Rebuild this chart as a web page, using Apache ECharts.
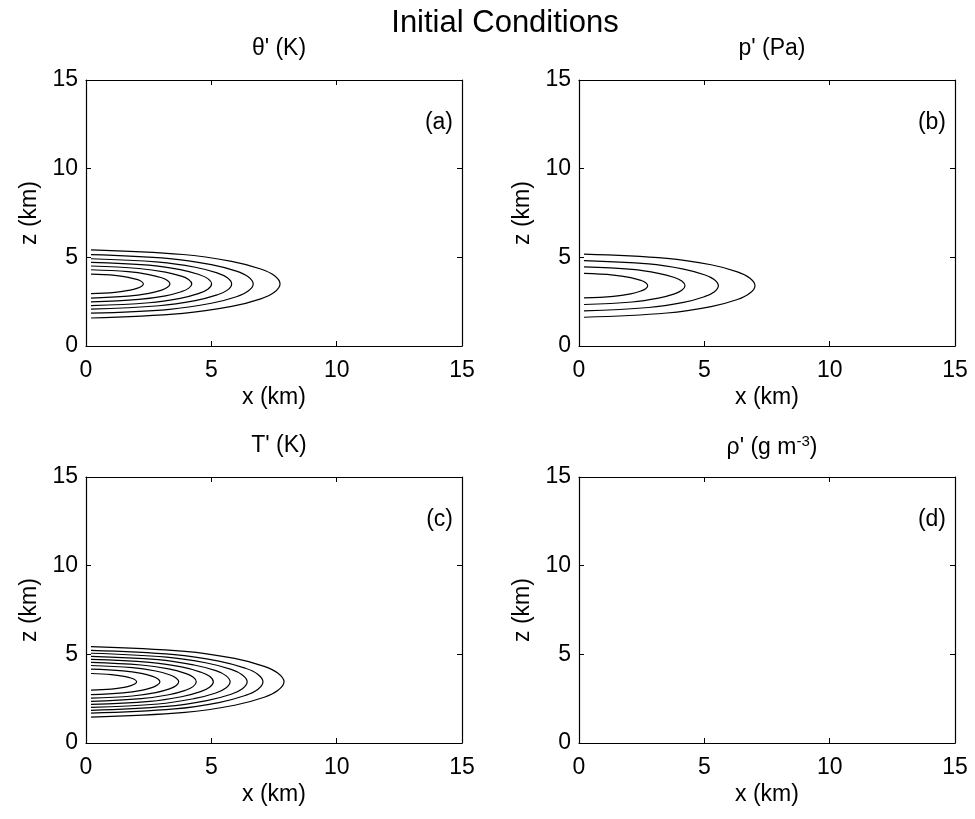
<!DOCTYPE html>
<html>
<head>
<meta charset="utf-8">
<script src="https://cdn.jsdelivr.net/npm/echarts@6/dist/echarts.min.js"></script>
<style>
  html, body { margin: 0; background: #fff; }
  #chart { width: 975px; height: 819px; }
</style>
</head>
<body>
<div id="chart"></div>
<script>
// axis ticks shared by every panel (km)
const axisTicks = [0, 5, 10, 15];

const figureTitle = 'Initial Conditions';
const panelTitles = ["θ' (K)", "p' (Pa)", "T' (K)", "{b|ρ' (g m}{sup|-3}{b|)}"];
const panelLabels = ['(a)', '(b)', '(c)', '(d)'];

// contour paths, [x km, z km], out along the top and back along the bottom
const thetaContours = [
  [[0.2, 4.05], [1.15, 3.98], [1.72, 3.86], [2.06, 3.74], [2.22, 3.63], [2.29, 3.5], [2.22, 3.37], [2.06, 3.26], [1.72, 3.14], [1.15, 3.02], [0.2, 2.95]],
  [[0.2, 4.30], [1.68, 4.19], [2.51, 4.03], [3.02, 3.85], [3.25, 3.69], [3.35, 3.5], [3.25, 3.31], [3.02, 3.15], [2.51, 2.97], [1.68, 2.81], [0.2, 2.70]],
  [[0.2, 4.51], [2.11, 4.37], [3.17, 4.17], [3.80, 3.94], [4.09, 3.75], [4.22, 3.5], [4.09, 3.25], [3.80, 3.06], [3.17, 2.83], [2.11, 2.63], [0.2, 2.49]],
  [[0.2, 4.72], [2.51, 4.56], [3.76, 4.31], [4.51, 4.03], [4.86, 3.80], [5.01, 3.5], [4.86, 3.20], [4.51, 2.97], [3.76, 2.69], [2.51, 2.44], [0.2, 2.28]],
  [[0.2, 4.92], [2.91, 4.73], [4.36, 4.44], [5.23, 4.12], [5.64, 3.85], [5.81, 3.5], [5.64, 3.15], [5.23, 2.88], [4.36, 2.56], [2.91, 2.27], [0.2, 2.08]],
  [[0.2, 5.15], [3.34, 4.93], [5.00, 4.59], [6.00, 4.22], [6.47, 3.90], [6.67, 3.5], [6.47, 3.10], [6.00, 2.78], [5.00, 2.41], [3.34, 2.07], [0.2, 1.85]],
  [[0.2, 5.42], [3.87, 5.16], [5.81, 4.77], [6.97, 4.34], [7.51, 3.97], [7.74, 3.5], [7.51, 3.03], [6.97, 2.66], [5.81, 2.23], [3.87, 1.84], [0.2, 1.58]]
];

const pressureContours = [
  [[0.2, 4.09], [1.37, 4.00], [2.06, 3.86], [2.47, 3.70], [2.66, 3.57], [2.74, 3.4], [2.66, 3.23], [2.47, 3.10], [2.06, 2.94], [1.37, 2.80], [0.2, 2.71]],
  [[0.2, 4.46], [2.12, 4.32], [3.17, 4.10], [3.81, 3.86], [4.10, 3.66], [4.23, 3.4], [4.10, 3.14], [3.81, 2.94], [3.17, 2.70], [2.12, 2.48], [0.2, 2.34]],
  [[0.2, 4.82], [2.78, 4.63], [4.17, 4.34], [5.00, 4.02], [5.39, 3.75], [5.56, 3.4], [5.39, 3.05], [5.00, 2.78], [4.17, 2.46], [2.78, 2.17], [0.2, 1.98]],
  [[0.2, 5.18], [3.51, 4.94], [5.27, 4.58], [6.32, 4.18], [6.81, 3.83], [7.02, 3.4], [6.81, 2.97], [6.32, 2.62], [5.27, 2.22], [3.51, 1.86], [0.2, 1.62]]
];

const tempContours = [
  [[0.2, 3.92], [1.01, 3.86], [1.52, 3.76], [1.82, 3.65], [1.96, 3.56], [2.02, 3.45], [1.96, 3.34], [1.82, 3.25], [1.52, 3.14], [1.01, 3.04], [0.2, 2.98]],
  [[0.2, 4.17], [1.48, 4.07], [2.21, 3.93], [2.66, 3.76], [2.86, 3.62], [2.95, 3.45], [2.86, 3.28], [2.66, 3.14], [2.21, 2.97], [1.48, 2.83], [0.2, 2.73]],
  [[0.2, 4.37], [1.85, 4.25], [2.78, 4.06], [3.33, 3.85], [3.59, 3.67], [3.70, 3.45], [3.59, 3.23], [3.33, 3.05], [2.78, 2.84], [1.85, 2.65], [0.2, 2.53]],
  [[0.2, 4.55], [2.20, 4.40], [3.30, 4.18], [3.96, 3.93], [4.27, 3.72], [4.40, 3.45], [4.27, 3.18], [3.96, 2.97], [3.30, 2.72], [2.20, 2.50], [0.2, 2.35]],
  [[0.2, 4.72], [2.54, 4.55], [3.81, 4.29], [4.57, 4.00], [4.93, 3.76], [5.08, 3.45], [4.93, 3.14], [4.57, 2.90], [3.81, 2.61], [2.54, 2.35], [0.2, 2.18]],
  [[0.2, 4.89], [2.88, 4.70], [4.31, 4.40], [5.18, 4.08], [5.58, 3.80], [5.75, 3.45], [5.58, 3.10], [5.18, 2.82], [4.31, 2.50], [2.88, 2.20], [0.2, 2.01]],
  [[0.2, 5.06], [3.22, 4.84], [4.82, 4.51], [5.79, 4.15], [6.24, 3.84], [6.43, 3.45], [6.24, 3.06], [5.79, 2.75], [4.82, 2.39], [3.22, 2.06], [0.2, 1.84]],
  [[0.2, 5.22], [3.53, 4.98], [5.30, 4.62], [6.35, 4.22], [6.85, 3.88], [7.06, 3.45], [6.85, 3.02], [6.35, 2.68], [5.30, 2.28], [3.53, 1.92], [0.2, 1.68]],
  [[0.2, 5.44], [3.95, 5.17], [5.93, 4.77], [7.11, 4.32], [7.66, 3.93], [7.90, 3.45], [7.66, 2.97], [7.11, 2.58], [5.93, 2.13], [3.95, 1.73], [0.2, 1.46]]
];

// panel (d) has no contours
const densityContours = [];

const panelContours = [thetaContours, pressureContours, tempContours, densityContours];

const FONT = '"Liberation Sans", Arial, Helvetica, sans-serif';
const INK = '#000';

// pixel boxes of the four panels [left, top]
const boxes = [[86, 80], [579, 80], [86, 477], [579, 477]];
const BOX_W = 376;
const BOX_H = 266;

const chart = echarts.init(document.getElementById('chart'), null, { renderer: 'canvas' });

const grid = [];
const xAxis = [];
const yAxis = [];
const series = [];
const title = [{
  text: figureTitle,
  left: 500,
  top: 3,
  textAlign: 'center',
  textStyle: { fontFamily: FONT, fontSize: 31, fontWeight: 'normal', color: INK }
}];

const axisBase = {
  type: 'value',
  min: axisTicks[0],
  max: axisTicks[axisTicks.length - 1],
  interval: axisTicks[1] - axisTicks[0],
  splitLine: { show: false },
  axisLine: { show: true, onZero: false, lineStyle: { color: INK, width: 1.2 } },
  axisTick: { show: true, inside: true, length: 5, lineStyle: { color: INK, width: 1 } }
};
const labelStyle = { color: INK, fontFamily: FONT, fontSize: 23 };
const nameStyle = { color: INK, fontFamily: FONT, fontSize: 23 };

boxes.forEach(([left, top], i) => {
  grid.push({ left, top, width: BOX_W, height: BOX_H, containLabel: false });

  xAxis.push(Object.assign({}, axisBase, {
    gridIndex: i, position: 'bottom',
    name: 'x (km)', nameLocation: 'middle', nameGap: 40, nameTextStyle: nameStyle,
    axisLabel: Object.assign({ margin: 13 }, labelStyle)
  }));
  yAxis.push(Object.assign({}, axisBase, {
    gridIndex: i, position: 'left',
    name: 'z (km)', nameLocation: 'middle', nameGap: 45, nameRotate: 90, nameTextStyle: nameStyle,
    axisLabel: Object.assign({ margin: 8 }, labelStyle)
  }));

  title.push({
    text: panelTitles[i],
    left: left + BOX_W / 2,
    top: top - 48,
    textAlign: 'center',
    textStyle: {
      fontFamily: FONT, fontSize: 23, fontWeight: 'normal', color: INK,
      rich: {
        b: { fontFamily: FONT, fontSize: 23, color: INK, lineHeight: 27 },
        sup: { fontFamily: FONT, fontSize: 15, color: INK, verticalAlign: 'top', lineHeight: 27, padding: [0, 0, 12, 0] }
      }
    }
  });
  title.push({
    text: panelLabels[i],
    left: left + BOX_W - 14,
    top: top + 26,
    textAlign: 'right',
    textStyle: { fontFamily: FONT, fontSize: 23, fontWeight: 'normal', color: INK }
  });

  panelContours[i].forEach((path) => {
    series.push({
      type: 'line',
      xAxisIndex: i,
      yAxisIndex: i,
      data: path,
      smooth: 0.4,
      showSymbol: false,
      symbol: 'none',
      silent: true,
      animation: false,
      lineStyle: { color: INK, width: 1.2 }
    });
  });
});

// mirrored box sides: top and right axes with inward ticks, no labels
boxes.forEach((b, i) => {
  xAxis.push(Object.assign({}, axisBase, { gridIndex: i, position: 'top', axisLabel: { show: false } }));
  yAxis.push(Object.assign({}, axisBase, { gridIndex: i, position: 'right', axisLabel: { show: false } }));
});

chart.setOption({
  backgroundColor: '#fff',
  animation: false,
  title,
  grid,
  xAxis,
  yAxis,
  series
});
</script>
</body>
</html>
